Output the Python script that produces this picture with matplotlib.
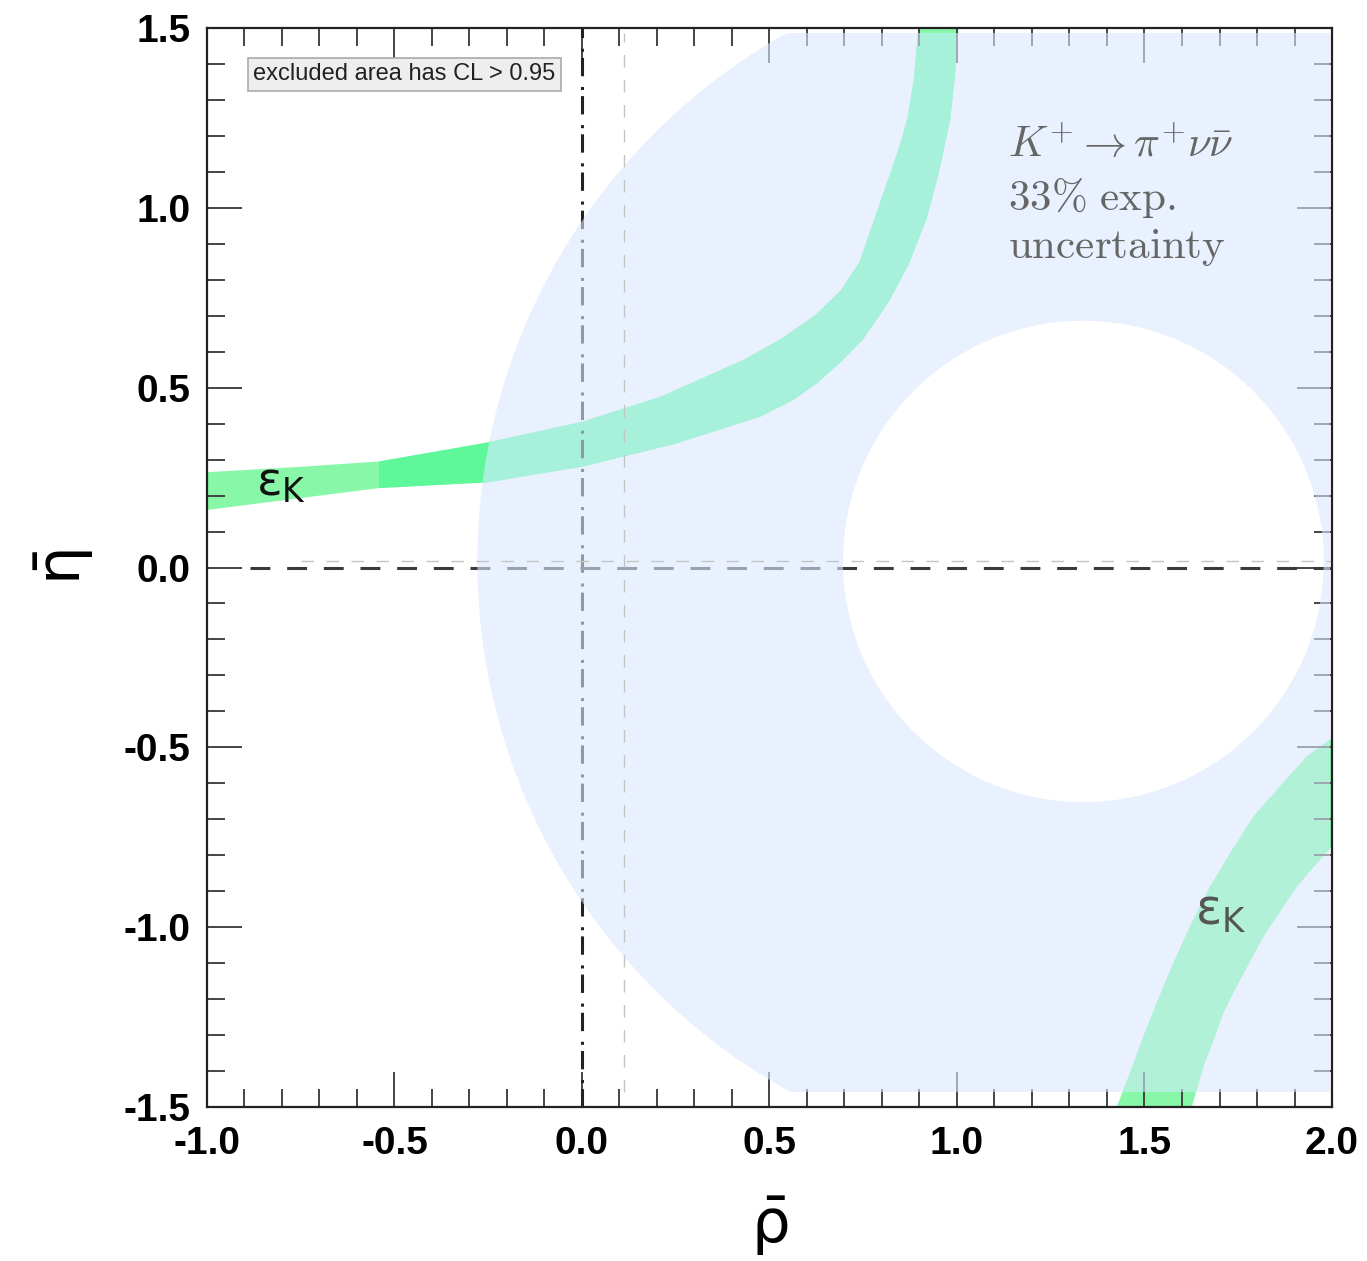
import numpy as np
import matplotlib
matplotlib.use('Agg')
import matplotlib.pyplot as plt
from matplotlib.path import Path
from matplotlib.patches import PathPatch, Polygon, Rectangle

# ---------------- data ----------------
x_range = [-1.0, 2.0]
y_range = [-1.5, 1.5]
x_major = [-1.0, -0.5, 0.0, 0.5, 1.0, 1.5, 2.0]
y_major = [-1.5, -1.0, -0.5, 0.0, 0.5, 1.0, 1.5]
x_labels = ['-1.0', '-0.5', '0.0', '0.5', '1.0', '1.5', '2.0']
y_labels = ['-1.5', '-1.0', '-0.5', '0.0', '0.5', '1.0', '1.5']

# K+ -> pi+ nu nubar annulus (centre, outer / inner semi-axes, visible window)
kpnn_center = [1.337, 0.017]
kpnn_outer = [1.616, 1.685]
kpnn_inner = [0.641, 0.669]
kpnn_rho_max = 1.995
kpnn_eta_win = [-1.458, 1.486]

# epsilon_K band, upper branch: left/upper edge and right/lower edge
epsk_up_a_rho = [-1.0, -0.75, -0.54, -0.32, -0.25, 0.0, 0.21, 0.43, 0.53, 0.62, 0.69,
                 0.74, 0.77, 0.80, 0.83, 0.852, 0.87, 0.885, 0.897]
epsk_up_a_eta = [0.265, 0.28, 0.295, 0.335, 0.348, 0.405, 0.475, 0.577, 0.635, 0.70, 0.77,
                 0.85, 0.94, 1.03, 1.12, 1.19, 1.26, 1.36, 1.5]
epsk_up_b_rho = [-1.0, -0.54, -0.25, 0.0, 0.252, 0.475, 0.564, 0.63, 0.696, 0.75, 0.785,
                 0.821, 0.87, 0.918, 0.95, 0.982, 0.995, 1.004]
epsk_up_b_eta = [0.16, 0.221, 0.237, 0.28, 0.345, 0.419, 0.466, 0.515, 0.577, 0.635, 0.688,
                 0.744, 0.84, 0.966, 1.09, 1.244, 1.37, 1.5]

# epsilon_K band, lower branch
epsk_lo_a_rho = [1.999, 1.932, 1.861, 1.790, 1.728, 1.675, 1.621, 1.577, 1.532, 1.497, 1.461, 1.426]
epsk_lo_a_eta = [-0.475, -0.526, -0.609, -0.693, -0.795, -0.887, -0.999, -1.100, -1.212,
                 -1.304, -1.406, -1.5]
epsk_lo_b_rho = [1.999, 1.951, 1.906, 1.861, 1.817, 1.745, 1.71, 1.684, 1.657, 1.639, 1.626]
epsk_lo_b_eta = [-0.776, -0.832, -0.887, -0.957, -1.026, -1.165, -1.239, -1.314, -1.388,
                 -1.453, -1.5]
epsk_dark_rho = [-0.54, -0.2]

# reference lines
rho_zero = 0.0
rho_ref2 = 0.112
eta_zero = 0.0
eta_ref2 = 0.017
eta_line_start = -0.885
eta_ref2_start = -0.75

# ---------------- style ----------------
blue = '#DAE8FC'
green_out = '#88F8A8'
green_dark = '#5EF89A'
green_in_up = '#5DFFAC'
green_in_lo = '#76FFA2'

fig = plt.figure(figsize=(13.67, 12.61), dpi=100)
ax = fig.add_axes([0.1514, 0.1221, 0.8230, 0.8557])
ax.set_xlim(*x_range)
ax.set_ylim(*y_range)

# annulus path
th = np.linspace(0, 2 * np.pi, 721)
ox = kpnn_center[0] + kpnn_outer[0] * np.cos(th)
oy = kpnn_center[1] + kpnn_outer[1] * np.sin(th)
ox = np.minimum(ox, kpnn_rho_max)
oy = np.clip(oy, kpnn_eta_win[0], kpnn_eta_win[1])
ix = kpnn_center[0] + kpnn_inner[0] * np.cos(th[::-1])
iy = kpnn_center[1] + kpnn_inner[1] * np.sin(th[::-1])
outer_path = Path(np.column_stack([ox, oy]), closed=True)
inner_path = Path(np.column_stack([ix, iy]), closed=True)
ann_path = Path.make_compound_path(outer_path, inner_path)


def band_poly(ar, ae, br, be):
    return np.column_stack([np.r_[ar, br[::-1]], np.r_[ae, be[::-1]]])


up_poly = band_poly(epsk_up_a_rho, epsk_up_a_eta, epsk_up_b_rho, epsk_up_b_eta)
lo_poly = band_poly(epsk_lo_a_rho, epsk_lo_a_eta, epsk_lo_b_rho, epsk_lo_b_eta)

# outside-colour bands
ax.add_patch(Polygon(up_poly, closed=True, fc=green_out, ec='none', zorder=1))
ax.add_patch(Polygon(lo_poly, closed=True, fc=green_out, ec='none', zorder=1))
dark = Polygon(up_poly, closed=True, fc=green_dark, ec='none', zorder=1.2)
ax.add_patch(dark)
clip_rect = Rectangle((epsk_dark_rho[0], y_range[0]), epsk_dark_rho[1] - epsk_dark_rho[0],
                      y_range[1] - y_range[0], transform=ax.transData, fc='none', ec='none')
dark.set_clip_path(clip_rect)

# inside-colour bands (clipped to annulus, under translucent blue)
ann_clip = PathPatch(ann_path, transform=ax.transData, fc='none', ec='none')
for poly, col in [(up_poly, green_in_up), (lo_poly, green_in_lo)]:
    p = Polygon(poly, closed=True, fc=col, ec='none', zorder=1.5)
    ax.add_patch(p)
    p.set_clip_path(ann_clip)

# dark reference lines
ax.plot([rho_zero, rho_zero], y_range, color='#222222', lw=2.2,
        linestyle=(0, (6, 2, 1, 3.5)), zorder=2)
ax.plot([eta_line_start, x_range[1]], [eta_zero, eta_zero], color='#3a3a3a', lw=2.2,
        linestyle=(0, (6.5, 5.5)), zorder=2)

# translucent K->pi nu nu region
ax.add_patch(PathPatch(ann_path, fc=blue, ec='none', alpha=0.6, zorder=3))

# thin light reference lines
ax.plot([rho_ref2, rho_ref2], [kpnn_eta_win[0], kpnn_eta_win[1]], color='#c4c4c4', lw=1.0,
        linestyle=(0, (9, 9)), zorder=4)
ax.plot([eta_ref2_start, x_range[1]], [eta_ref2, eta_ref2], color='#c4c4c4', lw=1.0,
        linestyle=(0, (9, 9)), zorder=4)

# ticks
ax.set_xticks(x_major)
ax.set_xticklabels(x_labels)
ax.set_yticks(y_major)
ax.set_yticklabels(y_labels)
ax.set_xticks(np.round(np.arange(-1.0, 2.0001, 0.1), 2), minor=True)
ax.set_yticks(np.round(np.arange(-1.5, 1.5001, 0.1), 2), minor=True)
ax.tick_params(which='both', direction='in', top=True, right=True, color='#444444', width=1.4)
ax.tick_params(which='major', length=25)
ax.tick_params(which='minor', length=13)
ax.tick_params(axis='x', which='major', pad=14)
ax.tick_params(axis='y', which='major', pad=12)
for lab in ax.get_xticklabels() + ax.get_yticklabels():
    lab.set_fontfamily('Liberation Sans')
    lab.set_fontweight('bold')
    lab.set_fontsize(28)
for s in ax.spines.values():
    s.set_linewidth(1.6)
    s.set_color('#222222')
    s.set_zorder(6)

plt.rcParams['mathtext.fontset'] = 'dejavusans'
ax.set_xlabel(r'$\bar{\mathrm{\rho}}$', fontsize=44, labelpad=23)
ax.set_ylabel(r'$\bar{\mathrm{\eta}}$', fontsize=44, labelpad=20)

# labels
ax.text(-0.877, 1.371, 'excluded area has CL > 0.95', fontsize=17, family='Liberation Sans',
        color='#222222', va='center', ha='left', zorder=7,
        bbox=dict(boxstyle='square,pad=0.22', fc='#eeeeee', ec='#aaaaaa', lw=1.2))
ax.text(-0.87, 0.235, r'$\mathrm{\varepsilon}_{\mathrm{K}}$', fontsize=34, color='#111111',
        ha='left', va='center', zorder=7)
ax.text(1.635, -0.955, r'$\mathrm{\varepsilon}_{\mathrm{K}}$', fontsize=35, color='#555555',
        ha='left', va='center', zorder=7)

txt_kw = dict(fontsize=31, color='#666666', ha='left', va='baseline', zorder=7,
              math_fontfamily='cm')
ax.text(1.135, 1.141, r'$K^{+}\rightarrow\pi^{+}\nu\bar{\nu}$', **txt_kw)
ax.text(1.135, 0.994, r'$\mathrm{33\%\ exp.}$', **txt_kw)
ax.text(1.135, 0.86, r'$\mathrm{uncertainty}$', **txt_kw)

fig.savefig('out.png', dpi=100)
